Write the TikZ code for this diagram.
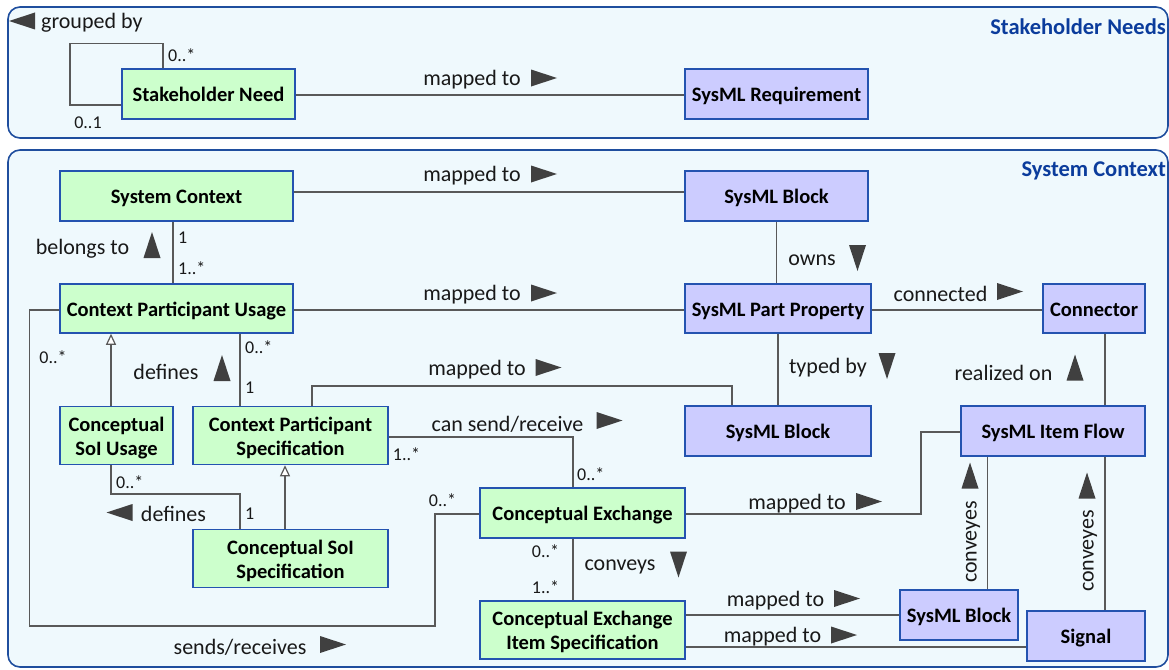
\documentclass[tikz,border=0pt]{standalone}
\usepackage{fontspec}
\setmainfont{Carlito}
\usetikzlibrary{arrows.meta}
\definecolor{framefill}{HTML}{EFF9FD}
\definecolor{frameblue}{HTML}{1F4E9E}
\definecolor{boxblue}{HTML}{2453B0}
\definecolor{greenfill}{HTML}{CCFFCC}
\definecolor{purplefill}{HTML}{CCCCFF}
\definecolor{linegray}{HTML}{595959}
\definecolor{tricol}{HTML}{404040}
\definecolor{titleblue}{HTML}{0B3C9C}
\newcommand{\nodefnt}{\fontsize{20.5}{24}\bfseries\selectfont}
\newcommand{\labfnt}{\fontsize{22}{24}\selectfont}
\newcommand{\mulfnt}{\fontsize{18}{20}\selectfont}
\newcommand{\titfnt}{\fontsize{22.5}{24}\bfseries\selectfont}
\tikzset{
  frame/.style={draw=frameblue, fill=framefill, line width=1.6pt, rounded corners=12pt},
  gbox/.style={draw=boxblue, fill=greenfill, line width=1.5pt, font=\nodefnt, align=center, inner sep=0pt, text=black, text height=15pt, text depth=0pt},
  pbox/.style={gbox, fill=purplefill},
  two/.style={text height=39.5pt, text depth=0pt},
  conn/.style={draw=linegray, line width=1.4pt},
  gen/.style={conn, -{Triangle[length=11pt, width=10pt, fill=white, line width=1.2pt]}},
  lab/.style={font=\labfnt, text=black!90, inner sep=0pt, yshift=-1pt},
  mul/.style={font=\mulfnt, text=black!90, inner sep=0pt},
  tit/.style={font=\titfnt, text=titleblue, inner sep=0pt, anchor=east},
  rtri/.pic={\fill[tricol] (-13,-8.5) -- (13,0) -- (-13,8.5) -- cycle;},
  ltri/.pic={\fill[tricol] (13,-8.5) -- (-13,0) -- (13,8.5) -- cycle;},
  utri/.pic={\fill[tricol] (-8.5,13) -- (0,-13) -- (8.5,13) -- cycle;},
  dtri/.pic={\fill[tricol] (-8.5,-13) -- (0,13) -- (8.5,-13) -- cycle;},
}
\begin{document}
\begin{tikzpicture}[x=1pt, y=-1pt]
\useasboundingbox (0,0) rectangle (1169,669);
% frames
\path[frame] (8,7) rectangle (1168,138);
\path[frame] (8,150) rectangle (1168,667);
\node[tit] (t1) at (1166,27) {Stakeholder Needs};
\node[tit] (t2) at (1166,171) {System Context};
% nodes
\node[gbox, minimum width=173pt, minimum height=50pt] (sn) at (208.5,94) {Stakeholder Need};
\node[pbox, minimum width=183pt, minimum height=50pt] (req) at (776.5,94) {SysML Requirement};
\node[gbox, minimum width=233pt, minimum height=50pt] (sc) at (176.5,196) {System Context};
\node[pbox, minimum width=183pt, minimum height=50pt] (blk1) at (776.5,196) {SysML Block};
\node[gbox, minimum width=233pt, minimum height=49pt] (cpu) at (176.5,308.5) {Context Participant Usage};
\node[pbox, minimum width=186pt, minimum height=49pt] (spp) at (778,308.5) {SysML Part Property};
\node[pbox, minimum width=102pt, minimum height=49pt] (con) at (1094,308.5) {Connector};
\node[gbox, two, minimum width=113pt, minimum height=58pt] (csu) at (116.5,435.5) {Conceptual\\SoI Usage};
\node[gbox, two, minimum width=195pt, minimum height=58pt] (cps) at (290.5,435.5) {Context Participant\\Specification};
\node[pbox, minimum width=186pt, minimum height=50pt] (blk2) at (778,431) {SysML Block};
\node[pbox, minimum width=184pt, minimum height=50pt] (sif) at (1053,431) {SysML Item Flow};
\node[gbox, minimum width=205pt, minimum height=50pt] (ce) at (582.5,513) {Conceptual Exchange};
\node[gbox, two, minimum width=195pt, minimum height=58pt] (csp) at (290.5,558.5) {Conceptual SoI\\Specification};
\node[gbox, two, minimum width=205pt, minimum height=58pt] (ceis) at (582.5,630) {Conceptual Exchange\\Item Specification};
\node[pbox, minimum width=118pt, minimum height=50pt] (blk3) at (959,615) {SysML Block};
\node[pbox, minimum width=118pt, minimum height=50pt] (sig) at (1086,636) {Signal};
% connectors
\draw[conn] ([xshift=-45.5pt]sn.north) -- ++(0,-25) -| (70,105) -- ([yshift=-11pt]sn.west);
\draw[conn] ([yshift=-1pt]sn.east) -- ([yshift=-1pt]req.west);
\draw[conn] ([yshift=4pt]sc.east) -- ([yshift=4pt]blk1.west);
\draw[conn] ([xshift=-3.5pt]sc.south) -- ([xshift=-3.5pt]cpu.north);
\draw[conn] ([yshift=-1.5pt]cpu.east) -- ([yshift=-1.5pt]spp.west);
\draw[conn] (blk1.south) -- (blk1.south |- spp.north);
\draw[conn] ([yshift=-1.5pt]spp.east) -- ([yshift=-1.5pt]con.west);
\draw[conn] ([xshift=11pt]con.south) -- ([xshift=11pt]con.south |- sif.north);
\draw[conn] (spp.south) -- (spp.south |- blk2.north);
\draw[gen] ([xshift=-5.5pt]csu.north) -- ([xshift=-5.5pt]csu.north |- cpu.south);
\draw[conn] ([xshift=63.5pt]cpu.south) -- ([xshift=63.5pt]cpu.south |- cps.north);
\draw[conn] ([yshift=-1.5pt]cpu.west) -| (29.5,626) -| (435,514) -- ([yshift=-1pt]ce.west);
\draw[conn] ([xshift=21.5pt]cps.north) |- (732,386) -- ([xshift=-46pt]blk2.north);
\draw[conn] ([yshift=-1.5pt]cps.east) -| ([xshift=-9.5pt]ce.north);
\draw[conn] ([xshift=-5.5pt]csu.south) |- (240,494) -- ([xshift=-50.5pt]csp.north);
\draw[gen] ([xshift=-5.5pt]csp.north) -- ([xshift=-5.5pt]cps.south);
\draw[conn] ([yshift=-1pt]ce.east) -| (921,432) -- ([yshift=-1pt]sif.west);
\draw[conn] ([xshift=-9.5pt]ce.south) -- ([xshift=-9.5pt]ceis.north);
\draw[conn] (ceis.east |- blk3.west) -- (blk3.west);
\draw[conn] ([yshift=-17pt]ceis.east) -- ([yshift=-17pt]ceis.east -| sig.west);
\draw[conn] ([xshift=28.5pt]blk3.north) -- ([xshift=28.5pt]blk3.north |- sif.south);
\draw[conn] ([xshift=19pt]sig.north) -- ([xshift=19pt]sig.north |- sif.south);
% labels
\pic at (22,21) {ltri};
\node[lab, anchor=west] (l1) at (41,22) {grouped by};
\node[mul, anchor=west] (m1) at (168,55) {0..*};
\node[mul] (m2) at (88,123) {0..1};
\node[lab] (l2) at (472,79) {mapped to};
\pic at (544,78) {rtri};
\node[lab] (l3) at (472,175) {mapped to};
\pic at (544,174) {rtri};
\node[lab] (l4) at (472,294) {mapped to};
\pic at (544,293) {rtri};
\node[lab] (l5) at (82.5,248) {belongs to};
\pic at (152,245) {utri};
\node[mul, anchor=west] (m3) at (178,238) {1};
\node[mul, anchor=west] (m4) at (178,268) {1..*};
\node[lab] (l6) at (812,259) {owns};
\pic at (857.5,258) {dtri};
\node[lab] (l7) at (940.5,293) {connected};
\pic at (1010,291.5) {rtri};
\node[lab] (l8) at (166,371) {defines};
\pic at (222,368) {utri};
\node[mul, anchor=west] (m5) at (245,347) {0..*};
\node[mul, anchor=west] (m6) at (245,388) {1};
\node[mul] (m7) at (53,357) {0..*};
\node[lab] (l9) at (477,369) {mapped to};
\pic at (548.5,367.5) {rtri};
\node[lab] (l10) at (828,367) {typed by};
\pic at (887,366) {dtri};
\node[lab] (l11) at (1003.5,372) {realized on};
\pic at (1075,367.5) {utri};
\node[lab] (l12) at (507.5,423) {can send/receive};
\pic at (609.5,420.5) {rtri};
\node[mul] (m8) at (406.5,454) {1..*};
\node[mul, anchor=west] (m9) at (577,474) {0..*};
\node[mul] (m10) at (442.5,500) {0..*};
\pic at (119.5,512.5) {ltri};
\node[lab] (l13) at (173.5,513) {defines};
\node[mul, anchor=west] (m11) at (116,482) {0..*};
\node[mul, anchor=west] (m12) at (245,514) {1};
\node[lab] (l14) at (797,503) {mapped to};
\pic at (869,501.5) {rtri};
\node[mul] (m13) at (545.5,551) {0..*};
\node[mul] (m14) at (545.5,587) {1..*};
\node[lab] (l15) at (620,566) {conveys};
\pic at (678.5,564.5) {dtri};
\node[lab] (l16) at (775.5,600) {mapped to};
\pic at (847,598.5) {rtri};
\node[lab] (l17) at (772.5,636) {mapped to};
\pic at (844,635) {rtri};
\node[lab] (l18) at (240,646) {sends/receives};
\pic at (333,644.5) {rtri};
\node[lab, rotate=90] (l19) at (973,541) {conveyes};
\pic at (970,475.5) {utri};
\node[lab, rotate=90] (l20) at (1090,550) {conveyes};
\pic at (1087,485.5) {utri};
\end{tikzpicture}
\end{document}
